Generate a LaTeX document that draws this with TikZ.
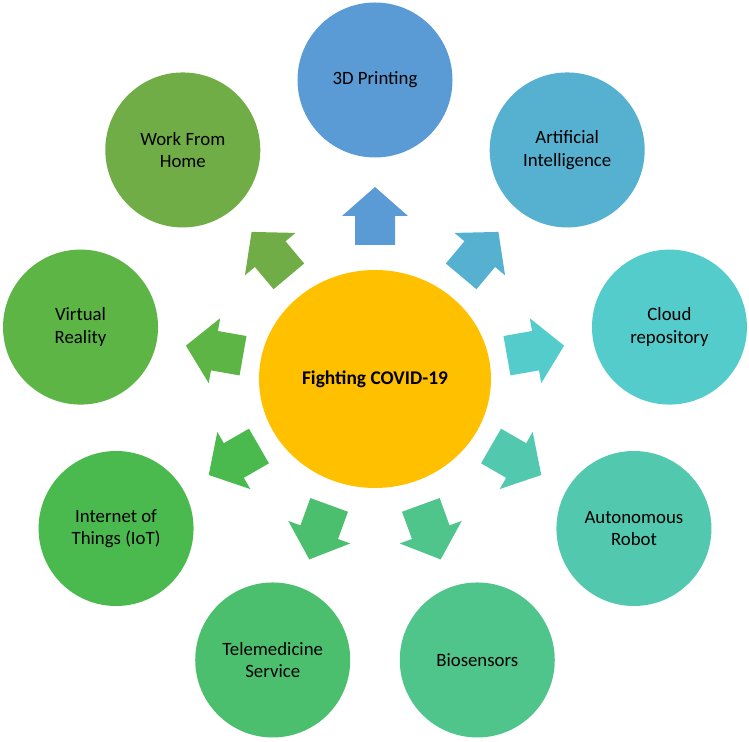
\documentclass[tikz,border=0pt]{standalone}
\usepackage{fontspec}
\setmainfont{Carlito}
\usetikzlibrary{shapes.geometric}
\definecolor{hubcol}{HTML}{FFC000}
\definecolor{cA}{HTML}{5B9BD5}
\definecolor{cB}{HTML}{56B1D1}
\definecolor{cC}{HTML}{55CCCC}
\definecolor{cD}{HTML}{52C9AF}
\definecolor{cE}{HTML}{4FC48B}
\definecolor{cF}{HTML}{4CBF6E}
\definecolor{cG}{HTML}{4ABA4F}
\definecolor{cH}{HTML}{5DB546}
\definecolor{cI}{HTML}{70AD47}
\begin{document}
\begin{tikzpicture}[x=1pt,y=1pt,
  topic/.style={circle, minimum size=155pt, inner sep=0pt, align=center,
    font=\fontsize{18.8}{22.5}\selectfont, text=black},
  hubstyle/.style={ellipse, fill=hubcol, minimum width=232pt, minimum height=218pt,
    inner sep=0pt, align=center, font=\bfseries\fontsize{19.4}{22.5}\selectfont, text=black}]
\useasboundingbox (-375,-362) rectangle (374,379);
\node[hubstyle] (hub) at (0,0) {Fighting COVID-19};
\foreach \a/\c/\n/\t in {
  90/cA/print/{3D Printing},
  50/cB/ai/{Artificial\\Intelligence},
  10/cC/cloud/{Cloud\\repository},
  -30/cD/robot/{Autonomous\\Robot},
  -70/cE/bio/{Biosensors},
  -110/cF/tele/{Telemedicine\\Service},
  -150/cG/iot/{Internet of\\Things (IoT)},
  170/cH/vr/{Virtual\\Reality},
  130/cI/wfh/{Work From\\Home}}{
  \node[topic, fill=\c] (\n) at (\a:299) {\t};
  \fill[\c, rotate=\a] (134,-20) -- (163,-20) -- (163,-33) -- (192,0)
    -- (163,33) -- (163,20) -- (134,20) -- cycle;
}
\end{tikzpicture}
\end{document}
